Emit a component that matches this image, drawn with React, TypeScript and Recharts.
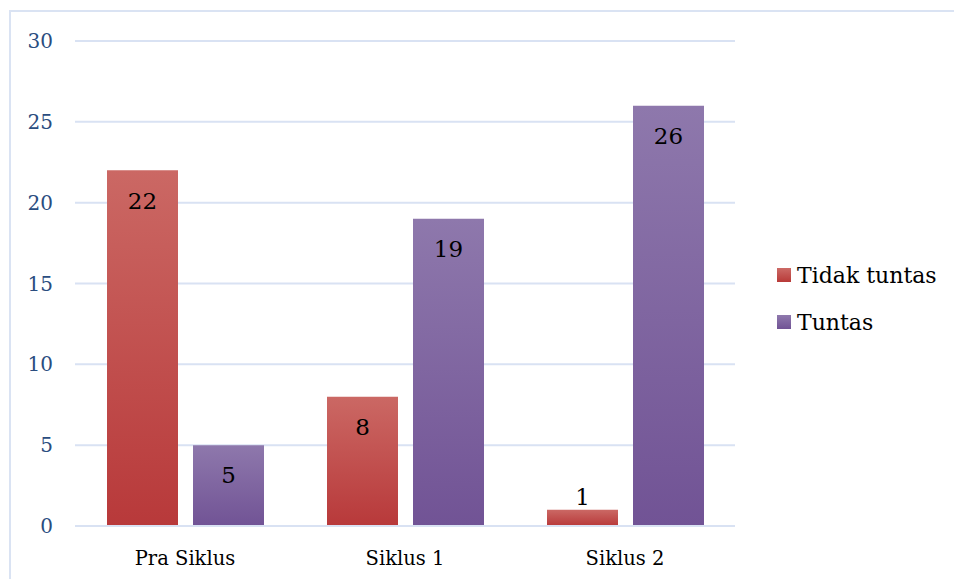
import React from 'react';
import { BarChart, Bar, XAxis, YAxis, CartesianGrid, LabelList } from 'recharts';

const categories = ['Pra Siklus', 'Siklus 1', 'Siklus 2'];
const tidakTuntas = [22, 8, 1];
const tuntas = [5, 19, 26];
const yTicks = [0, 5, 10, 15, 20, 25, 30];

const data = categories.map((name, i) => ({ name, tidak: tidakTuntas[i], tuntas: tuntas[i] }));

const FONT = '"DejaVu Serif", serif';

const BarLabel = (props: any) => {
  const { x, y, width, height, value } = props;
  const cx = x + width / 2;
  // short bars get the label above, like Excel does
  const cy = height < 40 ? y - 13 : y + 30;
  return (
    <text x={cx} y={cy} dy="0.36em" textAnchor="middle" fontFamily={FONT} fontSize={23} fill="#000">
      {value}
    </text>
  );
};

const legendItems = [
  { label: 'Tidak tuntas', top: '#cc6a66', bottom: '#b83a38' },
  { label: 'Tuntas', top: '#8f79ad', bottom: '#715395' },
];

const LegendBox = () => (
  <div style={{ position: 'absolute', left: 777, top: 261, fontFamily: FONT, fontSize: 22, color: '#000' }}>
    {legendItems.map((it, i) => (
      <div key={it.label} style={{ display: 'flex', alignItems: 'center', height: 28, marginBottom: i === 0 ? 19 : 0 }}>
        <div
          style={{
            width: 14,
            height: 14,
            marginRight: 6,
            background: `linear-gradient(${it.top}, ${it.bottom})`,
          }}
        />
        <span>{it.label}</span>
      </div>
    ))}
  </div>
);

export default function App() {
  return (
    <div style={{ position: 'absolute', left: 0, top: 0, width: 954, height: 579, background: '#fff', overflow: 'hidden' }}>
      <div
        style={{
          position: 'absolute',
          left: 9,
          top: 10,
          width: 950,
          height: 575,
          borderTop: '2px solid #dae3f3',
          borderLeft: '2px solid #dae3f3',
        }}
      />
      <BarChart
        width={954}
        height={579}
        data={data}
        margin={{ top: 41, right: 219, bottom: 13, left: 0 }}
        barGap={15}
        barCategoryGap={32}
        style={{ position: 'absolute', left: 0, top: 0 }}
      >
        <defs>
          <linearGradient id="redGrad" x1="0" y1="0" x2="0" y2="1">
            <stop offset="0%" stopColor="#cb6864" />
            <stop offset="100%" stopColor="#b8393a" />
          </linearGradient>
          <linearGradient id="purpleGrad" x1="0" y1="0" x2="0" y2="1">
            <stop offset="0%" stopColor="#8e78ac" />
            <stop offset="100%" stopColor="#715395" />
          </linearGradient>
        </defs>
        <CartesianGrid vertical={false} stroke="#d9e2f3" strokeWidth={2} />
        <XAxis
          dataKey="name"
          axisLine={{ stroke: '#d9e2f3', strokeWidth: 2 }}
          tickLine={false}
          height={40}
          tickMargin={19}
          tick={{ fontFamily: FONT, fontSize: 19.5, fill: '#000' }}
        />
        <YAxis
          domain={[0, 30]}
          ticks={yTicks}
          width={75}
          axisLine={false}
          tickLine={false}
          tickMargin={16}
          tick={{ fontFamily: FONT, fontSize: 20, fill: '#2a4d7f' }}
        />
        <Bar dataKey="tidak" name="Tidak tuntas" fill="url(#redGrad)" isAnimationActive={false}>
          <LabelList dataKey="tidak" content={BarLabel} />
        </Bar>
        <Bar dataKey="tuntas" name="Tuntas" fill="url(#purpleGrad)" isAnimationActive={false}>
          <LabelList dataKey="tuntas" content={BarLabel} />
        </Bar>
      </BarChart>
      <LegendBox />
    </div>
  );
}
